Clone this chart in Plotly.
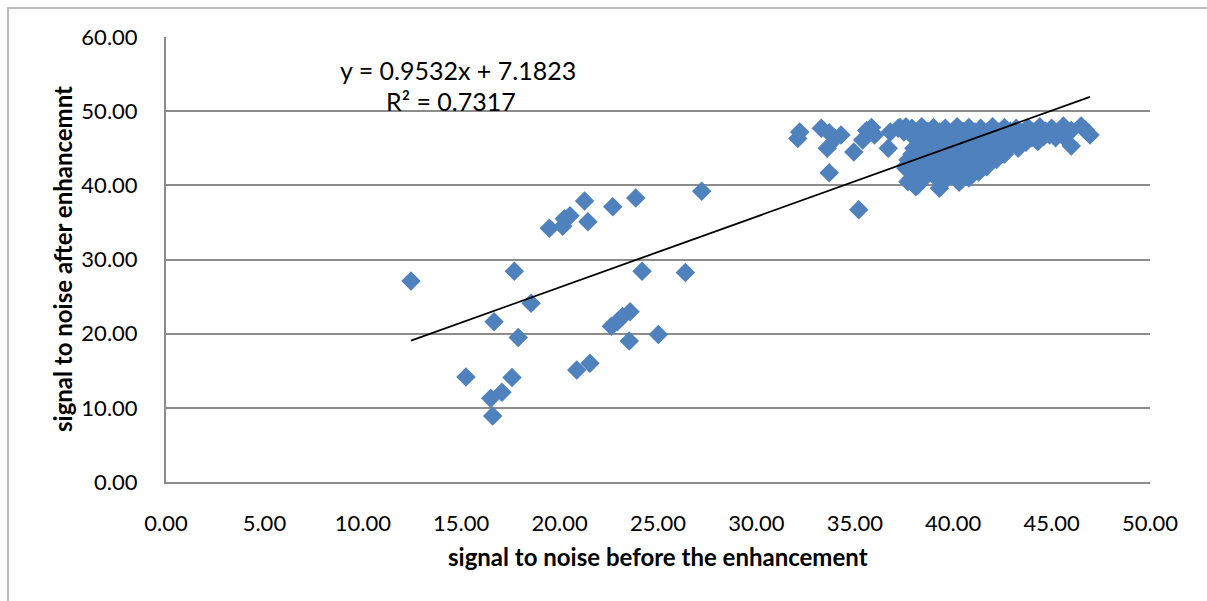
import plotly.graph_objects as go

# ---- data ----
low_x = [12.45, 15.24, 16.67, 16.50, 16.60, 17.07, 17.58, 17.70, 17.90, 18.55,
         19.48, 20.16, 20.24, 20.53, 20.87, 21.27, 21.44, 21.54, 22.70, 22.63,
         22.93, 23.20, 23.58, 23.54, 23.87, 24.19, 25.02, 26.39, 27.22]
low_y = [27.1, 14.15, 21.6, 11.3, 8.9, 12.1, 14.1, 28.4, 19.5, 24.1,
         34.2, 34.5, 35.5, 35.9, 15.1, 37.9, 35.1, 16.0, 37.1, 21.0,
         21.6, 22.3, 22.95, 19.0, 38.3, 28.4, 19.9, 28.25, 39.2]

mid_x = [32.2, 32.1, 33.3, 33.7, 33.6, 34.0, 34.3, 33.7, 35.2, 34.95,
         35.6, 35.85, 35.4, 36.0, 36.7, 36.8, 37.2, 37.6, 37.6, 37.7, 38.1]
mid_y = [47.2, 46.3, 47.7, 47.1, 45.0, 46.3, 46.8, 41.7, 36.7, 44.5,
         47.4, 47.8, 46.1, 46.8, 45.0, 47.2, 47.7, 47.9, 42.3, 40.5, 39.8]

cluster_x = [37.3, 37.9, 38.4, 39.0, 39.6, 40.2, 40.8, 41.4, 42.0, 42.6, 43.2, 43.8, 44.4, 45.0, 45.6, 46.5,
             37.5, 38.1, 38.7, 39.3, 39.9, 40.5, 41.1, 41.7, 42.3, 42.9, 43.5, 44.1, 44.7, 45.3, 46.0, 46.7,
             38.0, 38.6, 39.2, 39.8, 40.4, 41.0, 41.6, 42.2, 42.8, 43.4, 44.0, 44.6, 45.2, 46.95,
             38.3, 38.9, 39.5, 40.1, 40.7, 41.3, 41.9, 42.5, 43.1, 43.7, 44.3, 46.0,
             38.0, 38.6, 39.2, 39.8, 40.4, 41.0, 41.6, 42.2, 42.8, 43.3,
             37.9, 38.5, 39.1, 39.7, 40.3, 40.9, 41.5, 42.1, 42.6,
             37.7, 38.3, 38.9, 39.5, 40.1, 40.7, 41.3, 41.9, 42.2,
             37.6, 38.2, 38.8, 39.4, 40.0, 40.6, 41.2, 41.7,
             38.0, 38.6, 39.2, 39.8, 40.4, 41.0, 41.3,
             37.9, 38.5, 39.1, 39.7, 40.3, 40.8,
             38.2, 39.3, 40.3, 44.9, 45.6]
cluster_y = [47.8, 47.7, 47.9, 47.8, 47.7, 47.9, 47.8, 47.7, 47.9, 47.8, 47.7, 47.8, 47.9, 47.7, 48.0, 48.0,
             47.2, 47.1, 47.3, 47.2, 47.1, 47.3, 47.2, 47.1, 47.2, 47.3, 47.1, 47.2, 47.3, 47.1, 47.4, 47.5,
             46.5, 46.4, 46.6, 46.5, 46.4, 46.6, 46.5, 46.4, 46.6, 46.5, 46.4, 46.6, 46.4, 46.8,
             45.8, 45.7, 45.9, 45.8, 45.7, 45.9, 45.8, 45.7, 45.9, 45.8, 45.9, 45.3,
             45.0, 44.9, 45.1, 45.0, 44.9, 45.1, 45.0, 44.9, 45.1, 45.0,
             44.2, 44.1, 44.3, 44.2, 44.1, 44.3, 44.2, 44.1, 44.2,
             43.4, 43.3, 43.5, 43.4, 43.3, 43.5, 43.4, 43.3, 43.5,
             42.6, 42.5, 42.7, 42.6, 42.5, 42.7, 42.6, 42.5,
             41.8, 41.7, 41.9, 41.8, 41.7, 41.9, 41.8,
             41.0, 40.9, 41.1, 41.0, 40.9, 41.0,
             40.0, 39.6, 40.4, 46.8, 46.6]

slope = 0.9532
intercept = 7.1823
eq_text = "y = 0.9532x + 7.1823"
r2_text = "R² = 0.7317"

x_ticks = [0, 5, 10, 15, 20, 25, 30, 35, 40, 45, 50]
y_ticks = [0, 10, 20, 30, 40, 50, 60]

xs = low_x + mid_x + cluster_x
ys = low_y + mid_y + cluster_y

FONT = "Lato, 'Open Sans', sans-serif"

fig = go.Figure()
fig.add_trace(go.Scatter(
    x=xs, y=ys, mode="markers",
    marker=dict(symbol="diamond", size=15, color="#4F81BD", line=dict(width=0)),
    showlegend=False, hoverinfo="x+y"))

x0, x1 = min(xs), max(xs)
fig.add_trace(go.Scatter(
    x=[x0, x1], y=[slope * x0 + intercept, slope * x1 + intercept],
    mode="lines", line=dict(color="black", width=1.8),
    showlegend=False, hoverinfo="skip"))

L, R, T, B = 166, 57, 37, 119
W, H = 1207, 601
pw, ph = W - L - R, H - T - B

def px_x(px):
    return (px - L) / pw

def px_y(py):
    return (H - B - py) / ph

fig.update_layout(
    width=W, height=H,
    margin=dict(l=L, r=R, t=T, b=B, pad=0),
    paper_bgcolor="white", plot_bgcolor="white",
    font=dict(family=FONT, size=22, color="black"),
    xaxis=dict(range=[0, 50], tickvals=x_ticks, tickformat=".2f",
               showgrid=False, zeroline=False, showline=True,
               linecolor="#8C8C8C", linewidth=2, ticks="",
               ticklabelstandoff=21, tickfont=dict(size=22)),
    yaxis=dict(range=[0, 60], tickvals=y_ticks, tickformat=".2f",
               showgrid=True, gridcolor="#8C8C8C", gridwidth=2,
               zeroline=False, showline=True, linecolor="#8C8C8C", linewidth=2,
               ticks="", ticklabelstandoff=22, tickfont=dict(size=22)),
    shapes=[dict(type="rect", xref="paper", yref="paper",
                 x0=px_x(8), x1=px_x(1212), y0=px_y(606), y1=px_y(8),
                 line=dict(color="#A6A6A6", width=1.5), fillcolor="rgba(0,0,0,0)", layer="below")],
    annotations=[
        dict(text=eq_text, xref="paper", yref="paper", x=px_x(458), y=px_y(70),
             showarrow=False, font=dict(size=25), xanchor="center", yanchor="middle"),
        dict(text=r2_text, xref="paper", yref="paper", x=px_x(451), y=px_y(101),
             showarrow=False, font=dict(size=25), xanchor="center", yanchor="middle"),
        dict(text="<b>signal to noise before the enhancement</b>", xref="paper", yref="paper",
             x=px_x(658), y=px_y(556), showarrow=False, font=dict(size=24),
             xanchor="center", yanchor="middle"),
        dict(text="<b>signal to noise after enhancemnt</b>", xref="paper", yref="paper",
             x=px_x(62), y=px_y(259), showarrow=False, font=dict(size=24), textangle=-90,
             xanchor="center", yanchor="middle"),
    ],
)

fig.write_html("out.html")
